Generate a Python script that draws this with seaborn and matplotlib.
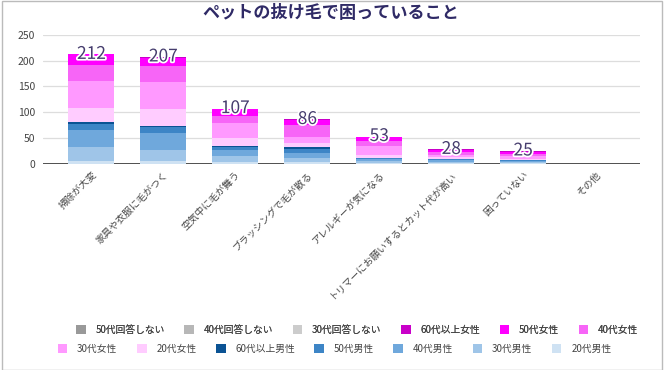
import numpy as np
import pandas as pd
import seaborn as sns
from matplotlib import pyplot as plt
from matplotlib.patches import Patch, Rectangle
import matplotlib.patheffects as pe

# カテゴリ
categories = ['掃除が大変', '家具や衣服に毛がつく', '空気中に毛が舞う', 'ブラッシングで毛が散る',
              'アレルギーが気になる', 'トリマーにお願いするとカット代が高い', '困っていない', 'その他']
totals = [212, 207, 107, 86, 53, 28, 25, 0]

# 各系列（下から積み上げ）
m20 = [5, 5, 3, 4, 2, 1, 1, 0]
m30 = [27, 22, 13, 7, 4, 3, 2, 0]
m40 = [34, 32, 10, 10, 3, 3, 3, 0]
m50 = [11, 12, 7, 8, 2, 2, 1, 0]
m60 = [5, 2, 2, 3, 1, 1, 0, 0]
f20 = [27, 33, 16, 8, 6, 3, 3, 0]
f30 = [52, 52, 28, 13, 16, 5, 5, 0]
f40 = [31, 32, 14, 22, 11, 5, 5, 0]
f50 = [20, 16, 13, 10, 7, 4, 4, 0]
f60 = [0, 1, 1, 1, 1, 1, 1, 0]
n30 = [0, 0, 0, 0, 0, 0, 0, 0]
n40 = [0, 0, 0, 0, 0, 0, 0, 0]
n50 = [0, 0, 0, 0, 0, 0, 0, 0]

# 凡例の順番（上から）
series_names = ['50代回答しない', '40代回答しない', '30代回答しない', '60代以上女性', '50代女性', '40代女性',
                '30代女性', '20代女性', '60代以上男性', '50代男性', '40代男性', '30代男性', '20代男性']
series_values = [n50, n40, n30, f60, f50, f40, f30, f20, m60, m50, m40, m30, m20]
series_colors = ['#999999', '#b7b7b7', '#cccccc', '#c900c9', '#ff00ff', '#f765f7',
                 '#ff99ff', '#ffccff', '#0b5394', '#3d85c6', '#6fa8dc', '#9fc5e8', '#cfe2f3']

rows = []
for name, vals in zip(series_names, series_values):
    for i, v in enumerate(vals):
        rows.append({'pos': i, 'series': name, 'count': v})
df = pd.DataFrame(rows)

sns.set_theme(style='white')
plt.rcParams['font.family'] = ['Noto Sans CJK JP', 'DejaVu Sans']

fig = plt.figure(figsize=(6.65, 3.7), dpi=100)
ax = fig.add_axes([0.065, 0.557, 0.897, 0.349])

sns.histplot(data=df, x='pos', hue='series', weights='count', multiple='stack',
             hue_order=series_names, palette=dict(zip(series_names, series_colors)),
             discrete=True, shrink=0.64, linewidth=0, alpha=1, legend=False, ax=ax, zorder=3)

ax.set_xlim(-0.67, 7.62)
ax.set_ylim(0, 250)
ax.set_yticks([0, 50, 100, 150, 200, 250])
ax.grid(axis='y', color='#dddddd', linewidth=0.9, zorder=0)
ax.axhline(0, color='#333333', linewidth=1.2, zorder=1)
for s in ax.spines.values():
    s.set_visible(False)
ax.set_xlabel('')
ax.set_ylabel('')
ax.tick_params(axis='y', length=0, labelsize=7.5, labelcolor='#444444', pad=6)
ax.set_xticks(range(len(categories)))
ax.set_xticklabels(categories, rotation=45, ha='right', va='top', rotation_mode='anchor',
                   fontsize=7, color='#444444')
ax.tick_params(axis='x', length=0, pad=4)

# 合計値ラベル
for i, t in enumerate(totals):
    if t > 0:
        ax.text(i, t + 1, str(t), ha='center', va='center', fontsize=12.5, color='#463d6e', zorder=5,
                path_effects=[pe.withStroke(linewidth=2.5, foreground='white')])

fig.text(0.498, 0.966, 'ペットの抜け毛で困っていること', ha='center', va='center',
         fontsize=12.3, fontweight='bold', color='#2f2a66')

# 凡例（2段）
handles = [Patch(facecolor=c, edgecolor='none') for c in series_colors]
leg1 = fig.legend(handles[:6], series_names[:6], ncol=6, loc='center', bbox_to_anchor=(0.537, 0.108),
                  frameon=False, fontsize=7, handlelength=1.0, handleheight=1.0, columnspacing=2.0,
                  handletextpad=1.0, labelcolor='#444444')
fig.legend(handles[6:], series_names[6:], ncol=7, loc='center', bbox_to_anchor=(0.503, 0.058),
           frameon=False, fontsize=7, handlelength=1.0, handleheight=1.0, columnspacing=2.0,
           handletextpad=1.0, labelcolor='#444444')
fig.add_artist(leg1)

fig.patches.append(Rectangle((0.003, 0.0), 0.993, 0.998, transform=fig.transFigure,
                             fill=False, edgecolor='#bbbbbb', linewidth=1))

fig.savefig('out.png', dpi=100)
